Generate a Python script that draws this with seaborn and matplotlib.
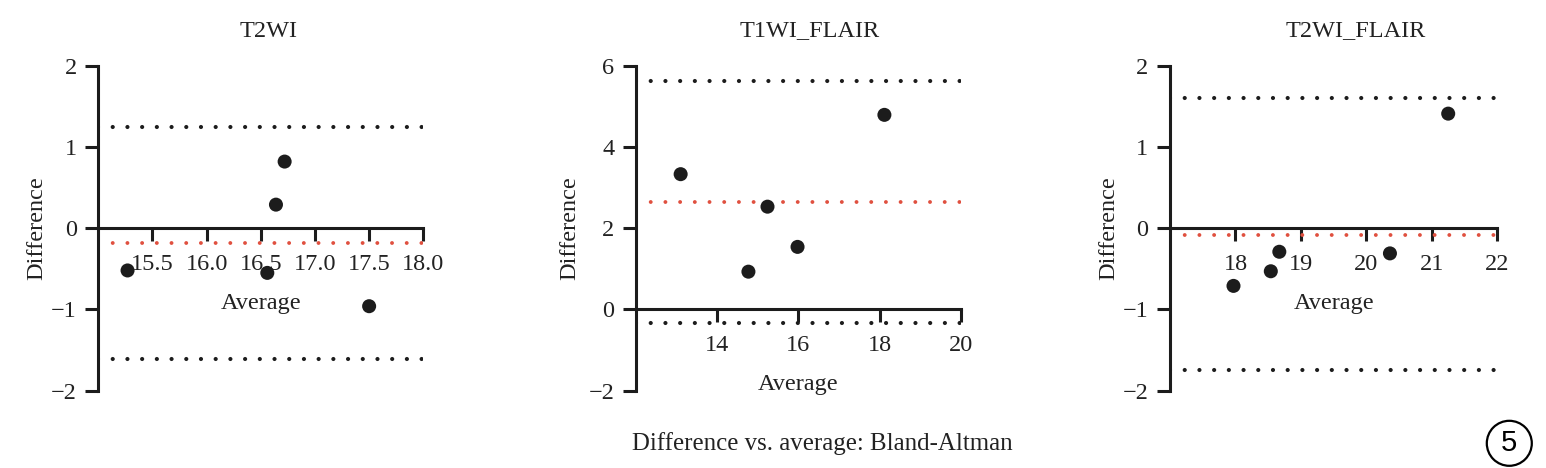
import matplotlib
matplotlib.use("Agg")
import matplotlib.pyplot as plt
import seaborn as sns
import pandas as pd
from matplotlib.patches import Circle
from matplotlib.ticker import FormatStrFormatter, FixedLocator

# ---------------- data ----------------
titles = ["T2WI", "T1WI_FLAIR", "T2WI_FLAIR"]

t2wi_avg = [15.27, 16.56, 16.64, 16.72, 17.50]
t2wi_diff = [-0.52, -0.55, 0.29, 0.82, -0.96]

t1flair_avg = [13.10, 14.77, 15.24, 15.98, 18.12]
t1flair_diff = [3.33, 0.93, 2.53, 1.54, 4.79]

t2flair_avg = [17.97, 18.54, 18.67, 20.36, 21.25]
t2flair_diff = [-0.71, -0.53, -0.29, -0.31, 1.41]

bias = [-0.185, 2.635, -0.078]
upper_loa = [1.24, 5.62, 1.60]
lower_loa = [-1.61, -0.345, -1.75]

x_ticks = [[15.5, 16.0, 16.5, 17.0, 17.5, 18.0], [14, 16, 18, 20], [18, 19, 20, 21, 22]]
x_limits = [(15.0, 18.0), (12, 20), (17, 22)]
y_ticks = [[-2, -1, 0, 1, 2], [-2, 0, 2, 4, 6], [-2, -1, 0, 1, 2]]
y_limits = [(-2, 2), (-2, 6), (-2, 2)]
x_tick_fmt = ["%.1f", "%d", "%d"]

x_label = "Average"
y_label = "Difference"
caption = "Difference vs. average: Bland-Altman"
badge = "5"

series = [
    pd.DataFrame({"Average": t2wi_avg, "Difference": t2wi_diff}),
    pd.DataFrame({"Average": t1flair_avg, "Difference": t1flair_diff}),
    pd.DataFrame({"Average": t2flair_avg, "Difference": t2flair_diff}),
]

# ---------------- style ----------------
sns.set_theme(style="ticks")
plt.rcParams["font.family"] = ["Liberation Serif", "DejaVu Serif"]
plt.rcParams["axes.unicode_minus"] = True

W, H = 1546, 468
DPI = 100
fig = plt.figure(figsize=(W / DPI, H / DPI), dpi=DPI)
fig.patch.set_facecolor("white")

# axes layout in pixels: (left, width)
ax_px = [(98.3, 325.0), (636.0, 324.7), (1170.0, 327.3)]
ax_top, ax_bottom = 65.7, 390.7
title_x = [0.523, 0.535, 0.566]
ylabel_x = [-0.158, -0.171, -0.156]

black = "#1c1c1c"
red = "#e0503f"
spine_lw = 2.2
FS = 17.5

for i, (left, width) in enumerate(ax_px):
    ax = fig.add_axes([left / W, 1 - ax_bottom / H, width / W, (ax_bottom - ax_top) / H])
    ax.set_facecolor("white")
    df = series[i]

    # limits of agreement and bias
    ax.axhline(upper_loa[i], color=black, lw=3.0, linestyle=(0, (0.01, 3.52)),
               dash_capstyle="round", zorder=2)
    ax.axhline(lower_loa[i], color=black, lw=3.0, linestyle=(0, (0.01, 3.52)),
               dash_capstyle="round", zorder=2)
    ax.axhline(bias[i], color=red, lw=2.8, linestyle=(0, (0.01, 3.77)),
               dash_capstyle="round", zorder=2)

    sns.scatterplot(data=df, x="Average", y="Difference", ax=ax, color=black,
                    s=102, edgecolor="none", linewidth=0, zorder=5, clip_on=False)

    ax.set_xlim(*x_limits[i])
    ax.set_ylim(*y_limits[i])
    ax.xaxis.set_major_locator(FixedLocator(x_ticks[i]))
    ax.yaxis.set_major_locator(FixedLocator(y_ticks[i]))
    ax.xaxis.set_major_formatter(FormatStrFormatter(x_tick_fmt[i]))

    for s in ["top", "right"]:
        ax.spines[s].set_visible(False)
    ax.spines["bottom"].set_position(("data", 0))
    for s in ["left", "bottom"]:
        ax.spines[s].set_linewidth(spine_lw)
        ax.spines[s].set_color(black)
        ax.spines[s].set_zorder(3)

    ax.tick_params(axis="both", direction="out", length=9.5, width=spine_lw,
                   color=black, labelsize=FS, labelcolor="#222222")
    ax.tick_params(axis="x", pad=9)
    ax.tick_params(axis="y", pad=6)

    ax.set_xlabel(x_label, fontsize=FS, color="#222222", labelpad=13)
    ax.set_ylabel(y_label, fontsize=FS, color="#222222")
    ax.yaxis.set_label_coords(ylabel_x[i], 0.5)
    ax.set_title(titles[i], fontsize=FS, color="#222222", pad=21, x=title_x[i])

fig.text(822 / W, 1 - 444 / H, caption, ha="center", va="center",
         fontsize=17.9, color="#222222")

# circled badge
cx, cy, r = 1509.3, 443.3, 22.5
fig.add_artist(Circle((cx / DPI, (H - cy) / DPI), r / DPI, transform=fig.dpi_scale_trans,
                      fill=False, ec="black", lw=1.6))
fig.text(cx / W, 1 - cy / H, badge, ha="center", va="center", fontsize=21,
         family=["Liberation Sans", "DejaVu Sans"], color="black")

fig.savefig("out.png", dpi=DPI, facecolor="white")
